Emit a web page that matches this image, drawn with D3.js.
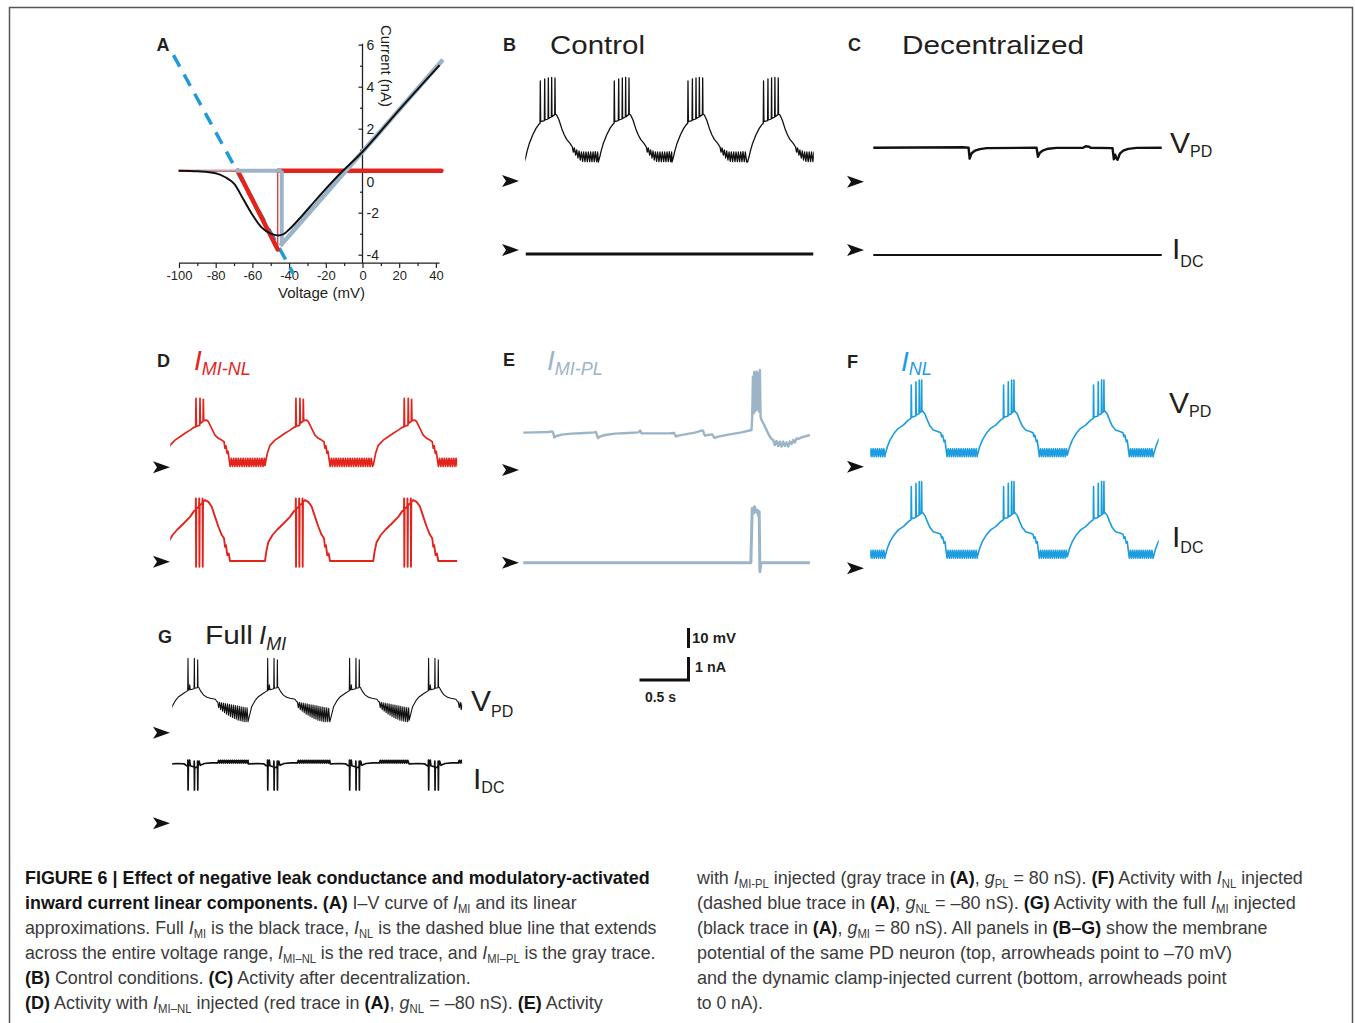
<!DOCTYPE html>
<html><head><meta charset="utf-8">
<script src="https://cdn.jsdelivr.net/npm/d3@7"></script>
<style>
html,body{margin:0;padding:0;background:#fff;}
svg{display:block;font-family:"Liberation Sans",Arial,Helvetica,sans-serif;}
</style></head><body>
<svg id="fig" width="1355" height="1023"></svg>
<script>
// ================= DATA =================
// Panel A: I-V curves (voltage mV, current nA)
const ivVoltageTicks = [-100, -80, -60, -40, -20, 0, 20, 40];
const ivVoltageMinor = [-90, -70, -50, -30, -10, 10, 30];
const ivCurrentTicks = [-4, -2, 0, 2, 4, 6];
const ivCurrentMinor = [-3, -1, 1, 3, 5];
const ivFull = [[-100,0],[-90,-0.03],[-80,-0.12],[-75,-0.3],[-70,-0.62],[-65,-1.35],[-60,-2.1],[-55,-2.7],[-50,-3.0],[-46,-3.08],[-43,-3.02],[-40,-2.8],[-34,-2.25],[-25,-1.35],[-14,-0.3],[0,0.9],[20,2.9],[42,5.03]];
const ivNL = [[-103,5.5],[-37.7,-4.9]];
const ivMINL = [[-100,0],[-68,0],[-46.2,-3.75],[-46.2,0],[43,0]];
const ivMIPL = [[-100,0],[-69,0],[-44,0],[-44,-3.5],[43,5.2]];

// Trace durations (ms), panels B..G
const panelIds = ["B","C","D","E","F","G"];
const panelDurations = [2935, 2943, 2918, 2924, 2934, 2948];

// Panel B (control): burst onsets (ms) and one cycle of V (ms rel. onset, mV)
const bOnsets = [146, 901, 1653, 2424];
const bVCycle = [[-160,-60.5],[-143,-57.5],[-133,-55.3],[-109,-51.2],[-75,-47],[-41,-43.7],[-14,-41.8],[0,-41.2],[3,-20],[7,-40.3],
 [44,-39.8],[48,-19],[51,-39.5],[82,-39],[85,-18.5],[88,-38.7],[116,-38],[119,-18.2],[122,-37.8],[150,-36.8],[153,-18.5],[156,-36.5],
 [170,-37],[194,-39.5],[221,-43.7],[248,-47],[272,-49.2],[306,-51.2],[330,-53],
 [340,-55.5],[350,-53.5],[364,-57],[374,-54.5],[388,-58.5],[398,-55],[411,-59.5],[422,-55.5],[435,-60.2],[445,-55.5],[459,-60.3],[469,-55.5],
 [483,-60.3],[493,-55.5],[507,-60.3],[517,-55.5],[530,-60.3],[541,-55.5],[554,-60.3],[564,-55.3],[578,-60.3],[588,-55.5],[602,-60.5],[612,-55.5],[626,-60.5],[636,-55.5],[650,-60.5]];
const bIDC = [[0,-0.17],[2935,-0.17]];

// Panel C (decentralized)
const cV = [[0,-53],[918,-52.8],[972,-53],[983,-58.5],[1003,-55.8],[1037,-54.5],[1088,-53.7],[1156,-53.2],[1666,-53],[1680,-57.5],[1700,-55.5],[1734,-54.3],[1785,-53.5],[1870,-53.1],
 [2142,-53],[2166,-52.3],[2203,-52.5],[2217,-53],[2441,-53.2],[2455,-58.8],[2468,-56.5],[2479,-58.2],[2492,-59],[2516,-56],[2550,-54.5],[2601,-53.6],[2686,-53.1],[2943,-53]];
const cIDC = [[0,-0.22],[2943,-0.22]];

// Panel D (I_MI-NL)
const dOnsets = [255, 1275, 2380];
const dVCycle = [[-313,-69],[-289,-63],[-262,-59],[-211,-56.4],[-160,-54.7],[-109,-53],[-58,-51.4],[-17,-50],[0,-49.8],[3,-35.5],[7,-49.4],
 [41,-49],[44,-35.5],[48,-48],[75,-47],[78,-36],[82,-46.7],
 [112,-46.4],[129,-47.2],[163,-50.5],[197,-53.9],[231,-55.5],[265,-56.4],[289,-57.2],[299,-60.5],[309,-59.3],[320,-63],[330,-62],
 [340,-65.5],[352,-69.5],[364,-65.5],[376,-69.5],[388,-65.5],[400,-69.5],[412,-65.5],[424,-69.5],[436,-65.5],[448,-69.5],[460,-65.5],[472,-69.5],
 [484,-65.5],[496,-69.5],[508,-65.5],[520,-69.5],[532,-65.5],[544,-69.5],[556,-65.5],[568,-69.5],[580,-65.5],[592,-69.5],[604,-65.5],[616,-69.5],
 [628,-65.5],[640,-69.5],[652,-65.5],[664,-69.5],[676,-65.5],[688,-69.5],[700,-65.5],[712,-69.5],[724,-65.5],[736,-69.5],[748,-65.5],[760,-69.5],
 [772,-65.5],[784,-69.5],[796,-65.5],[808,-69.5]];
const dICycle = [[-313,0.03],[-299,0.45],[-279,0.85],[-238,1.15],[-187,1.4],[-126,1.65],[-58,1.95],[-17,2.2],[0,2.25],[2,2.75],[4,-0.22],[7,2.3],
 [34,2.4],[36,2.75],[38,-0.22],[41,2.45],[68,2.55],[70,2.75],[72,-0.22],[75,2.6],
 [95,2.68],[129,2.6],[163,2.4],[197,1.96],[231,1.53],[265,1.17],[289,1.02],[299,0.65],[309,0.72],[323,0.28],[337,0.36],[350,0.03],[810,0.03]];

// Panel E (I_MI-PL)
const eV = [[0,-51.3],[119,-51.2],[255,-51],[296,-50.7],[309,-52],[316,-53.7],[340,-53],[391,-52.3],[493,-51.8],[629,-51.5],[724,-51.2],[741,-51],[751,-52.5],[762,-54],[782,-53.3],[833,-52.5],[935,-51.8],
 [1071,-51.5],[1173,-51.2],[1193,-50.3],[1207,-51.7],[1343,-51.7],[1479,-51.7],[1540,-51.5],[1550,-52.5],[1557,-53.3],[1581,-52.8],[1649,-52.2],[1751,-51.3],[1819,-50.3],[1833,-50.2],[1843,-51.7],[1853,-52.8],
 [1887,-52.5],[1928,-52.2],[1941,-53.3],[1952,-54],[1989,-53.3],[2091,-52.3],[2227,-51.2],[2329,-50],[2336,-43.3],[2343,-23.3],[2349,-41.7],[2356,-20.8],[2363,-40.8],[2370,-21.7],[2377,-40],
 [2383,-20.8],[2390,-39.2],[2397,-21.7],[2404,-40.8],[2414,-20],[2421,-43.3],[2431,-45],[2458,-47.5],[2482,-50],[2506,-52.5],[2533,-54.5],[2550,-55],[2567,-57.5],[2584,-55.5],[2601,-58],
 [2618,-55.8],[2635,-58.3],[2652,-55.8],[2669,-58],[2686,-56.2],[2703,-58.3],[2720,-55.8],[2737,-57],[2754,-55],[2771,-56.3],[2788,-54.2],[2805,-54.5],[2839,-53.7],[2890,-53],[2924,-52.5]];
const eIDC = [[0,0],[2322,0],[2336,2.36],[2349,2.15],[2360,2.43],[2370,2.22],[2387,2.29],[2397,2.07],[2407,2.22],[2414,-0.39],[2424,0],[2924,0]];

// Panel F (I_NL)
const fOnsets = [-531, 411, 1353, 2271, 3150];
const fVCycle = [[-265,-64.2],[-241,-60],[-214,-56.7],[-173,-53.3],[-129,-50.8],[-78,-49.2],[-27,-46.7],[0,-45.8],[3,-29.2],[7,-45.3],
 [48,-44.6],[51,-27.5],[54,-44.2],[82,-43.5],[85,-26.7],[88,-43],[105,-42.6],[109,-26.7],[112,-42.3],
 [116,-42],[143,-43.7],[167,-46.7],[194,-49.7],[228,-51.7],[279,-52.5],[303,-53],[313,-55],[323,-54.2],[337,-57.5],[347,-56.7],
 [357,-60.8],[368,-65],[379,-61],[390,-65],[401,-61],[412,-65],[423,-61],[434,-65],[445,-61],[456,-65],[467,-61],[478,-65],[489,-61],[500,-65],
 [511,-61],[522,-65],[533,-61],[544,-65],[555,-61],[566,-65],[577,-61],[588,-65],[599,-61],[610,-65],[621,-61],[632,-65],[643,-61],[654,-65],
 [665,-61],[676,-65],[687,-61],[698,-65],[709,-61],[720,-65]];
const fICycle = [[-265,0.5],[-241,0.87],[-214,1.16],[-173,1.45],[-129,1.67],[-78,1.81],[-27,2.03],[0,2.11],[3,3.55],[7,2.15],
 [48,2.21],[51,3.7],[54,2.24],[82,2.31],[85,3.77],[88,2.35],[105,2.38],[109,3.77],[112,2.41],
 [116,2.44],[143,2.29],[167,2.03],[194,1.77],[228,1.59],[279,1.52],[303,1.48],[313,1.31],[323,1.37],[337,1.09],[347,1.16],
 [357,0.8],[368,0.44],[379,0.78],[390,0.44],[401,0.78],[412,0.44],[423,0.78],[434,0.44],[445,0.78],[456,0.44],[467,0.78],[478,0.44],[489,0.78],[500,0.44],
 [511,0.78],[522,0.44],[533,0.78],[544,0.44],[555,0.78],[566,0.44],[577,0.78],[588,0.44],[599,0.78],[610,0.44],[621,0.78],[632,0.44],[643,0.78],[654,0.44],
 [665,0.78],[676,0.44],[687,0.78],[698,0.44],[709,0.78],[720,0.44]];

// Panel G (full I_MI)
const gOnsets = [153, 966, 1802, 2608];
const gVCycle = [[-194,-63.7],[-177,-60.3],[-160,-57],[-126,-54],[-92,-52],[-41,-50.3],[-7,-49.2],[0,-49],[3,-32.8],[7,-48.7],
 [17,-48.5],[20,-46],[27,-48.5],[65,-48],[68,-32.8],[71,-47.8],[99,-47.5],[102,-33.6],[105,-47.3],
 [112,-47.3],[136,-49.5],[163,-51.2],[197,-52.3],[231,-52.8],[282,-53.3],[299,-54.5],
 [306,-54.5],[316,-57.5],[326,-54.8],[336,-58.5],[346,-55],[356,-59.3],[366,-55.2],[376,-60],[386,-55.4],[396,-60.7],[406,-55.6],[416,-61.3],
 [426,-55.8],[436,-61.9],[446,-56],[456,-62.4],[466,-56.2],[476,-62.9],[486,-56.4],[496,-63.3],[506,-56.6],[516,-63.7],[526,-56.8],[536,-64],
 [546,-57],[556,-64.3],[566,-57.2],[576,-64.5],[586,-57.4],[596,-64.5],[606,-57.6],[616,-64.5],[626,-57.8],[636,-64.5]];
const gICycle = [[-194,2.58],[-102,2.6],[-34,2.58],[-10,2.5],[0,2.48],[2,2.75],[4,1.45],[7,2.5],
 [17,2.52],[20,2.75],[27,2.5],[65,2.45],[67,2.7],[69,1.45],[71,2.45],[99,2.42],[101,2.7],[103,1.45],[105,2.45],
 [116,2.7],[129,2.52],[170,2.6],[238,2.63],[299,2.63],
 [306,2.62],[316,2.74],[326,2.62],[336,2.74],[346,2.62],[356,2.74],[366,2.62],[376,2.74],[386,2.62],[396,2.74],[406,2.62],[416,2.74],
 [426,2.62],[436,2.74],[446,2.62],[456,2.74],[466,2.62],[476,2.74],[486,2.62],[496,2.74],[506,2.62],[516,2.74],[526,2.62],[536,2.74],
 [546,2.62],[556,2.74],[566,2.62],[576,2.74],[586,2.62],[596,2.74],[606,2.62],[616,2.74],[626,2.62],[636,2.74]];

// Scale bars
const scaleBarMV = 10, scaleBarNA = 1, scaleBarMS = 500;

// Caption
const captionLeft = [
 [["b","FIGURE 6 | Effect of negative leak conductance and modulatory-activated"]],
 [["b","inward current linear components. (A)"],["r"," I–V curve of "],["i","I"],["s","MI"],["r"," and its linear"]],
 [["r","approximations. Full "],["i","I"],["s","MI"],["r"," is the black trace, "],["i","I"],["s","NL"],["r"," is the dashed blue line that extends"]],
 [["r","across the entire voltage range, "],["i","I"],["s","MI–NL"],["r"," is the red trace, and "],["i","I"],["s","MI–PL"],["r"," is the gray trace."]],
 [["b","(B)"],["r"," Control conditions. "],["b","(C)"],["r"," Activity after decentralization."]],
 [["b","(D)"],["r"," Activity with "],["i","I"],["s","MI–NL"],["r"," injected (red trace in "],["b","(A)"],["r",", "],["i","g"],["s","NL"],["r"," = –80 nS). "],["b","(E)"],["r"," Activity"]]
];
const captionRight = [
 [["r","with "],["i","I"],["s","MI-PL"],["r"," injected (gray trace in "],["b","(A)"],["r",", "],["i","g"],["s","PL"],["r"," = 80 nS). "],["b","(F)"],["r"," Activity with "],["i","I"],["s","NL"],["r"," injected"]],
 [["r","(dashed blue trace in "],["b","(A)"],["r",", "],["i","g"],["s","NL"],["r"," = –80 nS). "],["b","(G)"],["r"," Activity with the full "],["i","I"],["s","MI"],["r"," injected"]],
 [["r","(black trace in "],["b","(A)"],["r",", "],["i","g"],["s","MI"],["r"," = 80 nS). All panels in "],["b","(B–G)"],["r"," show the membrane"]],
 [["r","potential of the same PD neuron (top, arrowheads point to –70 mV)"]],
 [["r","and the dynamic clamp-injected current (bottom, arrowheads point"]],
 [["r","to 0 nA)."]]
];

// ================= DRAWING =================
const INK = "#231f20";
const FONT = '"Liberation Sans", Arial, Helvetica, sans-serif';
const RED = "#e2251c", GRAYBLUE = "#9cb4c8", BLUE = "#1c9de0", DASHBLUE = "#1f9bd8";
const MS_PX = 0.098, MV_PX = 2, NA_PX = 23;
const svg = d3.select("#fig");

svg.append("rect").attr("x", 9.5).attr("y", 7.5).attr("width", 1343).attr("height", 1040)
  .attr("fill", "none").attr("stroke", "#555").attr("stroke-width", 1.5);

// ---------- Panel A ----------
const xA = d3.scaleLinear().domain([-100, 40]).range([179, 435.9]);
const yA = d3.scaleLinear().domain([-4, 6]).range([254.7, 44.7]);
const gA = svg.append("g").attr("color", INK);
const xAxisY = yA(-4.4);
function styleAxis(g){ g.select(".domain").remove(); g.attr("font-size", 13).attr("font-family", FONT);
  g.selectAll(".tick line").attr("stroke-width", 1.2); g.selectAll(".tick text").attr("fill", INK); }
gA.append("g").attr("transform", `translate(0,${xAxisY})`)
  .call(d3.axisBottom(xA).tickValues(ivVoltageTicks).tickSize(5).tickSizeOuter(0).tickPadding(3).tickFormat(d => String(d))).call(styleAxis);
gA.append("g").attr("transform", `translate(0,${xAxisY})`)
  .call(d3.axisBottom(xA).tickValues(ivVoltageMinor).tickSize(3).tickSizeOuter(0).tickFormat("")).call(styleAxis);
gA.append("line").attr("x1", xA(-100)).attr("x2", xA(42)).attr("y1", xAxisY).attr("y2", xAxisY).attr("stroke", INK).attr("stroke-width", 1.3);
const yAx = gA.append("g").attr("transform", `translate(${xA(0)},0)`)
  .call(d3.axisRight(yA).tickValues(ivCurrentTicks).tickSizeInner(-4).tickSizeOuter(0).tickPadding(4).tickFormat(d => String(d))).call(styleAxis);
yAx.attr("font-size", 14);
yAx.selectAll(".tick text").filter(d => d === 0).attr("y", 11);
gA.append("g").attr("transform", `translate(${xA(0)},0)`)
  .call(d3.axisRight(yA).tickValues(ivCurrentMinor).tickSizeInner(-2.5).tickSizeOuter(0).tickFormat("")).call(styleAxis);
gA.append("line").attr("x1", xA(0)).attr("x2", xA(0)).attr("y1", yA(-4.4)).attr("y2", yA(6.05)).attr("stroke", INK).attr("stroke-width", 1.3);

gA.append("text").attr("x", 321.5).attr("y", 297.5).attr("text-anchor", "middle").attr("font-size", 14).attr("fill", INK)
  .attr("textLength", 87).attr("lengthAdjust", "spacingAndGlyphs").text("Voltage (mV)");
gA.append("text").attr("transform", "translate(380.5,66) rotate(90)").attr("text-anchor", "middle").attr("font-size", 14).attr("fill", INK)
  .attr("textLength", 82).attr("lengthAdjust", "spacingAndGlyphs").text("Current (nA)");

const lineA = d3.line().x(d => xA(d[0])).y(d => yA(d[1]));
gA.append("path").attr("d", lineA(ivNL)).attr("fill", "none").attr("stroke", DASHBLUE).attr("stroke-width", 3.5).attr("stroke-dasharray", "13,9");
const redW = [2, 4.5, 1.2, 4.5];
ivMINL.slice(1).forEach((p, i) => gA.append("path").attr("d", lineA([ivMINL[i], p])).attr("fill", "none")
  .attr("stroke", RED).attr("stroke-width", redW[i]).attr("stroke-linecap", "round"));
const grayW = [1.2, 4, 4, 4.5];
ivMIPL.slice(1).forEach((p, i) => gA.append("path").attr("d", lineA([ivMIPL[i], p])).attr("fill", "none")
  .attr("stroke", GRAYBLUE).attr("stroke-width", grayW[i]).attr("stroke-linecap", i === 3 ? "square" : "butt"));
gA.append("path").attr("d", d3.line().x(d => xA(d[0])).y(d => yA(d[1])).curve(d3.curveMonotoneX)(ivFull))
  .attr("fill", "none").attr("stroke", "#111").attr("stroke-width", 2);

// ---------- Trace panels ----------
const layout = {
  B: {x0: 525.7, vy: 181, iy: 250, ax: 519},
  C: {x0: 873.3, vy: 181.7, iy: 250, ax: 864},
  D: {x0: 170.7, vy: 467.3, iy: 561.7, ax: 170},
  E: {x0: 523.3, vy: 470, iy: 562.7, ax: 519},
  F: {x0: 870.7, vy: 466.7, iy: 568.3, ax: 864},
  G: {x0: 172.7, vy: 732.7, iy: 823.3, ax: 170}
};
function assemble(onsets, cycle) {
  const pts = [];
  onsets.forEach((on, k) => {
    const limit = k < onsets.length - 1 ? onsets[k + 1] + cycle[0][0] : Infinity;
    cycle.forEach(([dt, v]) => { if (on + dt < limit) pts.push([on + dt, v]); });
  });
  return pts;
}
const arrowPath = "M0,0 L-17,-6 L-13,0 L-17,6 Z";
function panel(id) {
  const L = layout[id], dur = panelDurations[panelIds.indexOf(id)];
  const x = d3.scaleLinear().domain([0, dur]).range([L.x0, L.x0 + dur * MS_PX]);
  const yV = d3.scaleLinear().domain([-70, 0]).range([L.vy, L.vy - 70 * MV_PX]);
  const yI = d3.scaleLinear().domain([0, 1]).range([L.iy, L.iy - NA_PX]);
  svg.append("clipPath").attr("id", "clip" + id).append("rect")
    .attr("x", x(0) - 0.5).attr("y", 0).attr("width", x(dur) - x(0) + 1).attr("height", 1023);
  const g = svg.append("g");
  g.append("path").attr("d", arrowPath).attr("transform", `translate(${L.ax},${yV(-70)})`).attr("fill", "#111");
  g.append("path").attr("d", arrowPath).attr("transform", `translate(${L.ax},${yI(0)})`).attr("fill", "#111");
  const tg = g.append("g").attr("clip-path", `url(#clip${id})`);
  return {
    v(pts, color, w) { tg.append("path").attr("d", d3.line().x(d => x(d[0])).y(d => yV(d[1]))(pts))
      .attr("fill", "none").attr("stroke", color).attr("stroke-width", w).attr("stroke-linejoin", "round"); },
    i(pts, color, w) { tg.append("path").attr("d", d3.line().x(d => x(d[0])).y(d => yI(d[1]))(pts))
      .attr("fill", "none").attr("stroke", color).attr("stroke-width", w).attr("stroke-linejoin", "round"); }
  };
}
const pB = panel("B"); pB.v(assemble(bOnsets, bVCycle), "#111", 1.3); pB.i(bIDC, "#111", 3);
const pC = panel("C"); pC.v(cV, "#111", 2.4); pC.i(cIDC, "#111", 2);
const pD = panel("D"); pD.v(assemble(dOnsets, dVCycle), RED, 1.7); pD.i(assemble(dOnsets, dICycle), RED, 1.9);
const pE = panel("E"); pE.v(eV, GRAYBLUE, 2.4); pE.i(eIDC, GRAYBLUE, 3);
const pF = panel("F"); pF.v(assemble(fOnsets, fVCycle), BLUE, 1.6); pF.i(assemble(fOnsets, fICycle), BLUE, 1.6);
const pG = panel("G"); pG.v(assemble(gOnsets, gVCycle), "#111", 1.1); pG.i(assemble(gOnsets, gICycle), "#111", 1.7);

// ---------- Labels ----------
function txt(x, y, s, size, opts = {}) {
  const t = svg.append("text").attr("x", x).attr("y", y).attr("font-size", size).attr("fill", opts.fill || INK).text(s);
  if (opts.bold) t.attr("font-weight", "bold");
  if (opts.italic) t.attr("font-style", "italic");
  if (opts.len) t.attr("textLength", opts.len).attr("lengthAdjust", "spacingAndGlyphs");
  return t;
}
function subLabel(x, y, main, sub, size, subSize, dy, opts = {}) {
  const t = svg.append("text").attr("x", x).attr("y", y).attr("fill", opts.fill || INK);
  const a = t.append("tspan").attr("font-size", size).text(main);
  const b = t.append("tspan").attr("font-size", subSize).attr("dy", dy).text(sub);
  if (opts.italic) { a.attr("font-style", "italic"); b.attr("font-style", "italic"); }
  return t;
}
[["A",156.5,50.5],["B",503,50.5],["C",848,51],["D",157,367],["E",503,366],["F",847,368],["G",158,643]]
  .forEach(([s, x, y]) => txt(x, y, s, 18, {bold: true}));
txt(550, 53.5, "Control", 26, {len: 95});
txt(902, 53.5, "Decentralized", 26, {len: 182});
subLabel(194, 370, "I", "MI-NL", 28, 18, 5, {italic: true, fill: RED});
subLabel(547, 370, "I", "MI-PL", 28, 18, 5, {italic: true, fill: GRAYBLUE});
subLabel(901, 371, "I", "NL", 28, 18, 4, {italic: true, fill: BLUE});
txt(205, 643.5, "Full", 26, {len: 48});
subLabel(259, 643.5, "I", "MI", 26, 18, 6.5, {italic: true});
subLabel(1170, 153, "V", "PD", 30, 16, 4);
subLabel(1172, 259, "I", "DC", 30, 16, 8);
subLabel(1169, 413, "V", "PD", 30, 16, 4);
subLabel(1172, 547, "I", "DC", 30, 16, 6);
subLabel(471, 711, "V", "PD", 30, 16, 6);
subLabel(473, 789, "I", "DC", 30, 16, 4);

// ---------- Scale bars ----------
const sbX = 688.5;
svg.append("line").attr("x1", sbX).attr("x2", sbX).attr("y1", 628).attr("y2", 628 + scaleBarMV * MV_PX).attr("stroke", "#111").attr("stroke-width", 3);
svg.append("path").attr("d", `M${sbX},657 V${657 + scaleBarNA * NA_PX} H${sbX - scaleBarMS * MS_PX}`).attr("fill", "none").attr("stroke", "#111").attr("stroke-width", 3);
txt(692, 643, "10 mV", 14, {bold: true, len: 44});
txt(695, 672, "1 nA", 14, {bold: true, len: 31});
txt(645, 702, "0.5 s", 14, {bold: true, len: 31});

// ---------- Caption ----------
function richLine(x, y, segs, width) {
  const t = svg.append("text").attr("font-size", 19).attr("fill", "#3b3b3b").style("white-space", "pre")
    .attr("font-family", '"Liberation Sans Narrow", "Liberation Sans", Arial, sans-serif');
  let shift = 0;
  segs.forEach(([k, s]) => {
    const ts = t.append("tspan").text(s);
    if (k === "b") ts.attr("font-weight", "bold").attr("fill", "#141414");
    if (k === "i") ts.attr("font-style", "italic");
    if (k === "s") { ts.attr("font-size", 12); if (!shift) { ts.attr("dy", 4); shift = 4; } }
    else if (shift) { ts.attr("dy", -shift); shift = 0; }
  });
  const len = t.node().getComputedTextLength();
  t.attr("transform", `translate(${x},${y}) scale(${width / len},1)`);
}
const leftW = [625, 552, 632, 631, 446, 578];
const rightW = [606, 599, 571, 535, 530, 66];
captionLeft.forEach((segs, k) => richLine(25, 884 + 25 * k, segs, leftW[k]));
captionRight.forEach((segs, k) => richLine(697, 884 + 25 * k, segs, rightW[k]));
</script>
</body></html>
